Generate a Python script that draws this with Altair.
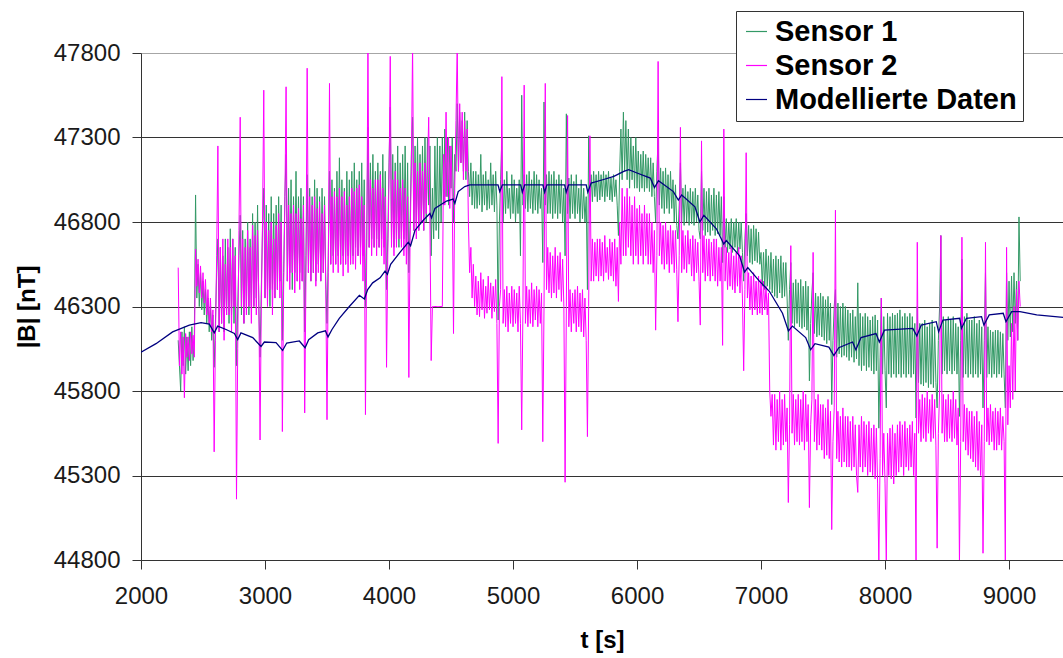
import altair as alt
import pandas as pd

# ---- sensor records: rows of 20 samples, 10 s apart (each row = 200 s) ----
T0 = 2300
DT = 10
ROW_SPAN = 200

# Sensor 1 (green) |B| in nT
s1_rows = [
    [46100, 45950, 45800, 46150, 45950, 46180, 45900, 46120, 45920, 46150, 45950, 46180, 45980, 46120, 46960, 46350, 46550, 46300, 46500, 46280],  # 2300
    [46450, 46250, 46400, 46200, 46350, 46150, 46300, 46100, 46250, 45940, 46200, 46500, 46700, 46150, 46650, 46200, 46600, 46150, 46700, 46250],  # 2500
    [46650, 46200, 46760, 46250, 46700, 46200, 46650, 45950, 46300, 46600, 46840, 46250, 46750, 46200, 46700, 46300, 46800, 46250, 46700, 46300],  # 2700
    [46850, 46300, 46800, 46350, 46900, 46300, 46000, 46400, 46750, 47000, 46350, 46900, 46400, 46850, 46300, 46950, 46400, 46850, 46350, 46900],  # 2900
    [46400, 46950, 46450, 46900, 46100, 46500, 46950, 47200, 46450, 47000, 46500, 47050, 46400, 46950, 46500, 47100, 46450, 46950, 46500, 47000],  # 3100
    [46450, 46950, 46150, 46600, 47080, 46500, 47000, 46450, 46950, 46500, 47050, 46450, 47000, 46550, 46950, 46450, 47000, 46500, 46950, 46450],  # 3300
    [46200, 46600, 47100, 46550, 47050, 46600, 47000, 46550, 47100, 46600, 47180, 46550, 47050, 46600, 47000, 46550, 47100, 46600, 47050, 46550],  # 3500
    [47100, 46600, 47150, 46650, 47050, 46600, 47100, 46650, 47150, 46600, 47050, 46300, 46700, 47360, 46650, 47150, 46700, 47200, 46650, 47100],  # 3700
    [46700, 47150, 46650, 47100, 46700, 47200, 46650, 47100, 46400, 46700, 47150, 47480, 46700, 47200, 46650, 47150, 46700, 47250, 46650, 47150],  # 3900
    [46700, 47200, 46700, 47250, 46650, 47150, 46500, 46800, 47200, 47420, 46750, 47250, 46800, 47300, 46750, 47200, 46800, 47250, 46750, 47300],  # 4100
    [46800, 47300, 46900, 47250, 46600, 47000, 46700, 47250, 46750, 47300, 46700, 47250, 46800, 47300, 46900, 47350, 46950, 47300, 46900, 47250],  # 4300
    [47000, 47300, 46800, 47200, 47100, 47500, 47100, 47450, 47150, 47400, 47100, 47450, 47050, 47400, 47100, 46950, 47150, 46900, 47100, 46880],  # 4500
    [47100, 46880, 47080, 46900, 47200, 46860, 47080, 46900, 47100, 46870, 47050, 46880, 47150, 46900, 47080, 46860, 47100, 46900, 46220, 46800],  # 4700
    [47050, 47300, 46800, 47050, 46850, 47100, 46880, 47000, 46820, 47080, 46850, 47050, 46800, 47000, 46850, 47050, 46600, 47550, 46900, 47080],  # 4900
    [46880, 47080, 46860, 47100, 46880, 47050, 46850, 47100, 46870, 47080, 46850, 47050, 46880, 47000, 46560, 47510, 46900, 47080, 46850, 47100],  # 5100
    [46850, 47080, 46820, 47100, 46850, 47050, 46820, 47080, 46850, 47050, 46800, 47000, 46600, 47440, 46850, 47060, 46820, 47080, 46850, 47040],  # 5300
    [46820, 47080, 46850, 47000, 46800, 47050, 46820, 47000, 46800, 46950, 46400, 47310, 46950, 47080, 46920, 47100, 46950, 47080, 46920, 47100],  # 5500
    [46930, 47080, 46950, 47100, 46920, 47080, 46950, 47100, 46930, 47060, 46920, 47080, 46950, 47050, 46900, 46720, 47100, 47350, 47050, 47450],  # 5700
    [47100, 47400, 47050, 47350, 47000, 47300, 47050, 47250, 47000, 47300, 47000, 47220, 46980, 47200, 47000, 47220, 46980, 47200, 47000, 47180],  # 5900
    [46980, 47180, 46950, 47150, 46950, 46800, 47100, 47300, 46900, 47120, 46880, 47100, 46850, 47120, 46880, 47080, 46850, 47100, 46880, 47050],  # 6100
    [46800, 47020, 46780, 46700, 46900, 47150, 46800, 47000, 46780, 47020, 46800, 46980, 46780, 47000, 46790, 46980, 46780, 47000, 46800, 46960],  # 6300
    [46750, 46700, 47100, 46750, 47000, 46720, 46980, 46740, 47000, 46720, 46960, 46750, 47000, 46720, 46960, 46730, 46980, 46720, 46950, 46560],  # 6500
    [46950, 46650, 46820, 46620, 46800, 46640, 46820, 46620, 46800, 46650, 46820, 46620, 46800, 46640, 46800, 46620, 46450, 46700, 46850, 46600],  # 6700
    [46780, 46560, 46760, 46550, 46780, 46570, 46760, 46560, 46740, 46550, 46620, 46420, 46620, 46400, 46640, 46420, 46600, 46400, 46620, 46380],  # 6900
    [46580, 46360, 46600, 46350, 46580, 46380, 46600, 46350, 46560, 46360, 46560, 46350, 46100, 46400, 46560, 46200, 46440, 46180, 46460, 46200],  # 7100
    [46440, 46180, 46460, 46170, 46420, 46180, 46450, 46160, 46420, 45860, 46200, 46380, 46500, 46140, 46380, 46120, 46360, 46130, 46380, 46120],  # 7300
    [46360, 46100, 46340, 46080, 46360, 46100, 46320, 45720, 46100, 46300, 46400, 46000, 46320, 46020, 46300, 46000, 46320, 46010, 46300, 46000],  # 7500
    [46280, 45980, 46260, 46000, 46280, 45970, 46240, 45990, 46440, 45950, 46260, 45920, 46240, 45950, 46260, 45920, 46240, 45940, 46220, 45920],  # 7700
    [46240, 45900, 46250, 45920, 46220, 45580, 46000, 46350, 45900, 46240, 45920, 45700, 46260, 45900, 46240, 45880, 46260, 45900, 46250, 45880],  # 7900
    [46260, 45900, 46280, 45880, 46240, 45900, 46260, 45880, 46240, 45900, 46260, 45880, 46240, 45900, 46200, 45640, 46300, 45850, 46200, 45840],  # 8100
    [46200, 45830, 46220, 45850, 46180, 45820, 46200, 45840, 46220, 45820, 46180, 45850, 45700, 46100, 46300, 46720, 45900, 46240, 45920, 46220],  # 8300
    [45900, 46240, 45920, 46220, 45900, 46240, 45920, 46200, 45900, 46180, 45650, 46100, 46580, 45880, 46240, 45900, 46260, 45880, 46220, 45900],  # 8500
    [46220, 45880, 46240, 45900, 46200, 45880, 46220, 45900, 46180, 45700, 46100, 46500, 45880, 46180, 45900, 46160, 45880, 46150, 45900, 46160],  # 8700
    [45880, 46160, 45900, 46150, 45880, 46140, 45900, 45700, 46500, 46100, 46450, 46120, 46480, 46150, 46500, 46200, 46450, 46100, 46830, 46450],  # 8900
]

# Sensor 2 (magenta) |B| in nT
s2_rows = [
    [46530, 45950, 46150, 45900, 46120, 45760, 46140, 46000, 46120, 45980, 46150, 46020, 46130, 46000, 46640, 46420, 46580, 46380, 46540, 46350],  # 2300
    [46500, 46320, 46460, 46250, 46400, 46200, 46350, 46150, 46280, 45440, 46100, 46600, 47250, 46150, 46650, 46200, 46700, 46100, 46550, 46250],  # 2500
    [46700, 46250, 46650, 46150, 46700, 46300, 46600, 45160, 46050, 46750, 47420, 46300, 46700, 46200, 46650, 46250, 46750, 46300, 46650, 46200],  # 2700
    [46780, 46300, 46720, 46250, 46750, 46350, 45510, 46300, 46800, 47580, 46350, 46800, 46300, 46750, 46400, 46800, 46250, 46700, 46350, 46780],  # 2900
    [46400, 46850, 46350, 46800, 45560, 46400, 46900, 47600, 46450, 46900, 46400, 46850, 46500, 46900, 46380, 46850, 46450, 46880, 46400, 46820],  # 3100
    [46450, 46900, 45670, 46450, 47710, 46500, 46950, 46450, 46900, 46500, 46950, 46420, 46880, 46500, 46920, 46450, 46850, 46500, 46900, 46400],  # 3300
    [45630, 46500, 47620, 46550, 46950, 46500, 46980, 46550, 46950, 46500, 47000, 46550, 46950, 46480, 46980, 46550, 46900, 46500, 46950, 46550],  # 3500
    [47000, 46550, 46980, 46520, 47000, 46600, 47020, 46550, 46950, 46450, 46900, 45660, 46600, 47850, 46650, 47050, 46600, 47000, 46650, 47050],  # 3700
    [46600, 47050, 46650, 47080, 46600, 47000, 46550, 46950, 45940, 46600, 47050, 47780, 46650, 47050, 46600, 47100, 46650, 47050, 46700, 47000],  # 3900
    [46650, 47050, 46600, 47000, 46550, 46950, 45880, 46700, 47100, 47850, 46750, 47150, 46700, 47100, 46750, 47150, 46800, 47100, 46750, 47150],  # 4100
    [46850, 47100, 47420, 46800, 45980, 46300, 46300, 46300, 46300, 46300, 46300, 46300, 46300, 46300, 47200, 46900, 47450, 46950, 47300, 46880],  # 4300
    [47250, 46950, 46140, 47000, 47400, 47850, 47100, 47500, 47150, 47450, 47050, 47400, 47100, 47350, 46800, 46500, 46650, 46350, 46550, 46300],  # 4500
    [46480, 46250, 46450, 46240, 46500, 46280, 46460, 46230, 46420, 46260, 46480, 46280, 46440, 46230, 46420, 46270, 46460, 46200, 45490, 46300],  # 4700
    [46400, 47660, 46200, 46400, 46180, 46420, 46150, 46380, 46200, 46420, 46180, 46400, 46200, 46380, 46150, 46420, 46200, 45570, 46300, 47610],  # 4900
    [46200, 46420, 46180, 46400, 46200, 46440, 46180, 46400, 46220, 46420, 46180, 46400, 46200, 46380, 45500, 46300, 47620, 46400, 46650, 46380],  # 5100
    [46620, 46350, 46600, 46380, 46650, 46350, 46600, 46400, 46620, 46330, 46580, 46300, 45260, 46300, 47430, 46180, 46400, 46150, 46380, 46200],  # 5300
    [46400, 46150, 46420, 46180, 46380, 46150, 46400, 46120, 46350, 46100, 45530, 46300, 47310, 46450, 46700, 46450, 46680, 46480, 46700, 46450],  # 5500
    [46700, 46480, 46680, 46450, 46720, 46500, 46650, 46460, 46700, 46480, 46680, 46450, 46700, 46420, 46650, 46330, 46800, 46550, 47000, 46600],  # 5700
    [46950, 46600, 47000, 46650, 46950, 46600, 46900, 46550, 46950, 46600, 46880, 46550, 46900, 46600, 46850, 46550, 46900, 46600, 46850, 46550],  # 5900
    [46850, 46550, 46800, 46500, 46750, 46160, 46600, 47750, 46600, 46800, 46550, 46780, 46520, 46800, 46550, 46750, 46500, 46780, 46550, 46750],  # 6100
    [46500, 46750, 46520, 46210, 46600, 47360, 46500, 46750, 46520, 46720, 46500, 46750, 46550, 46700, 46480, 46720, 46450, 46700, 46500, 46680],  # 6300
    [46450, 46190, 47280, 46500, 46720, 46450, 46700, 46480, 46700, 46450, 46680, 46480, 46700, 46450, 46700, 46420, 46650, 46450, 46650, 46070],  # 6500
    [47350, 46450, 46650, 46400, 46620, 46420, 46650, 46400, 46600, 46380, 46620, 46420, 46650, 46380, 46600, 46350, 45920, 46400, 47210, 46350],  # 6700
    [46500, 46280, 46480, 46250, 46500, 46280, 46450, 46250, 46480, 46260, 46460, 46250, 46450, 46280, 46420, 46250, 46380, 45800, 45650, 45780],  # 6900
    [45480, 45780, 45450, 45750, 45500, 45800, 45450, 45750, 45480, 45780, 45500, 45700, 45140, 45600, 46660, 45550, 45780, 45480, 45750, 45500],  # 7100
    [45780, 45480, 45750, 45500, 45800, 45450, 45780, 45500, 45720, 45110, 45600, 45750, 46620, 45500, 45750, 45450, 45780, 45480, 45720, 45450],  # 7300
    [45720, 45400, 45700, 45420, 45750, 45400, 45680, 44980, 45500, 45700, 46870, 45400, 45680, 45380, 45650, 45350, 45700, 45380, 45650, 45350],  # 7500
    [45650, 45350, 45620, 45330, 45650, 45350, 45600, 45300, 45200, 45600, 45350, 45650, 45320, 45620, 45350, 45600, 45300, 45620, 45320, 45580],  # 7700
    [45300, 45600, 45280, 45580, 45250, 44780, 45400, 46350, 45300, 45550, 45250, 44780, 45550, 45300, 45580, 45280, 45600, 45250, 45550, 45300],  # 7900
    [45600, 45320, 45620, 45350, 45600, 45300, 45620, 45350, 45580, 45330, 45600, 45350, 45620, 45300, 45550, 44780, 46680, 45550, 45750, 45500],  # 8100
    [45780, 45520, 45760, 45500, 45800, 45550, 45750, 45500, 45780, 45520, 45750, 45480, 44870, 45550, 45800, 46720, 45550, 45780, 45500, 45750],  # 8300
    [45500, 45780, 45520, 45750, 45500, 45800, 45520, 45750, 45480, 45700, 44780, 45500, 46710, 45500, 45720, 45450, 45700, 45420, 45680, 45400],  # 8500
    [45680, 45380, 45650, 45350, 45680, 45330, 45620, 45300, 45600, 44840, 45500, 46680, 45500, 45700, 45480, 45720, 45500, 45680, 45450, 45700],  # 8700
    [45450, 45680, 45480, 45700, 45450, 45650, 45500, 44780, 46650, 45600, 45950, 45700, 46200, 45750, 46300, 45800, 46400, 46100, 46450, 46300],  # 8900
]

# Modelled data (navy)
model_t = [2000, 2121, 2255, 2390, 2484, 2551, 2591, 2618, 2686, 2753,
           2780, 2806, 2901, 2968, 2995, 3089, 3142, 3175, 3277, 3323,
           3352, 3425, 3487, 3508, 3540, 3599, 3680, 3761, 3801, 3828,
           3868, 3928, 3968, 3987, 4013, 4088, 4155, 4174, 4209, 4276,
           4330, 4343, 4370, 4464, 4517, 4531, 4558, 4611, 4651, 4879,
           4893, 4914, 5062, 5075, 5094, 5241, 5255, 5273, 5416, 5429,
           5448, 5590, 5603, 5630, 5724, 5813, 5893, 5933, 6000, 6107,
           6141, 6173, 6293, 6333, 6360, 6467, 6507, 6539, 6640, 6699,
           6720, 6827, 6867, 6893, 6987, 7067, 7173, 7221, 7253, 7360,
           7400, 7435, 7547, 7587, 7627, 7738, 7765, 7806, 7927, 7954,
           7995, 8224, 8256, 8292, 8413, 8432, 8467, 8602, 8616, 8656,
           8778, 8797, 8840, 8953, 8975, 9021, 9088, 9223, 9436]
model_v = [46030, 46080, 46150, 46190, 46204, 46196, 46144, 46184, 46164, 46140,
           46104, 46144, 46116, 46064, 46090, 46086, 46040, 46084, 46096, 46056,
           46104, 46144, 46156, 46120, 46164, 46230, 46300, 46366, 46344, 46400,
           46440, 46470, 46510, 46490, 46550, 46620, 46680, 46660, 46750, 46810,
           46850, 46824, 46880, 46924, 46936, 46910, 46980, 47010, 47020, 47020,
           46980, 47020, 47020, 46976, 47020, 47020, 46976, 47020, 47020, 46976,
           47020, 47020, 46976, 47030, 47050, 47070, 47100, 47110, 47090, 47060,
           47004, 47044, 46980, 46930, 46960, 46890, 46800, 46840, 46760, 46670,
           46690, 46600, 46504, 46530, 46450, 46390, 46260, 46156, 46184, 46116,
           46044, 46080, 46060, 46010, 46056, 46090, 46044, 46116, 46140, 46090,
           46160, 46170, 46126, 46190, 46210, 46150, 46220, 46230, 46170, 46230,
           46240, 46190, 46250, 46260, 46210, 46270, 46270, 46250, 46236]

x_ticks = [2000, 3000, 4000, 5000, 6000, 7000, 8000, 9000]
y_ticks = [44800, 45300, 45800, 46300, 46800, 47300, 47800]

series_names = ["Sensor 1", "Sensor 2", "Modellierte Daten"]
series_colors = ["#339966", "#FF00FF", "#000080"]


def rows_to_df(rows, name):
    recs = []
    for r, row in enumerate(rows):
        for k, v in enumerate(row):
            recs.append({"t": T0 + r * ROW_SPAN + k * DT, "B": v, "series": name})
    return pd.DataFrame(recs)


df1 = rows_to_df(s1_rows, series_names[0])
df2 = rows_to_df(s2_rows, series_names[1])
dfm = pd.DataFrame({"t": model_t, "B": model_v, "series": series_names[2]})

FONT = "Liberation Sans"

x_enc = alt.X(
    "t:Q",
    scale=alt.Scale(domain=[2000, 9435], nice=False, zero=False),
    axis=alt.Axis(
        values=x_ticks, format="d", title="t [s]", grid=False, labelFlush=False,
        labelFont=FONT, labelFontSize=24, labelColor="#1a1a1a",
        labelPadding=15, tickSize=9, tickColor="#333333",
        domainColor="#333333", titleFont=FONT, titleFontSize=24,
        titleFontWeight="bold", titleColor="black", titlePadding=20,
    ),
)
y_enc = alt.Y(
    "B:Q",
    scale=alt.Scale(domain=[44800, 47800], nice=False, zero=False),
    axis=alt.Axis(
        values=y_ticks, format="d", title="|B| [nT]", grid=True, labelFlush=False,
        gridColor=alt.condition("datum.value == 47800", alt.value("#a6a6a6"), alt.value("#333333")),
        gridWidth=1,
        labelFont=FONT, labelFontSize=24, labelColor="#1a1a1a",
        labelPadding=12, tickSize=9, tickColor="#333333",
        domainColor="#333333", titleFont=FONT, titleFontSize=24,
        titleFontWeight="bold", titleColor="black", titlePadding=14,
    ),
)
color_enc = alt.Color(
    "series:N",
    scale=alt.Scale(domain=series_names, range=series_colors),
    legend=alt.Legend(
        orient="none", legendX=595, legendY=-42, title=None,
        labelFont=FONT, labelFontWeight="bold", labelFontSize=29,
        labelColor="black", labelLimit=600,
        symbolType="stroke", symbolSize=441, symbolStrokeWidth=1.2,
        labelOffset=4, rowPadding=4, padding=6,
        strokeColor="#333333", fillColor="white",
    ),
)

l1 = alt.Chart(df1).mark_line(strokeWidth=1, clip=True).encode(x=x_enc, y=y_enc, color=color_enc)
l2 = alt.Chart(df2).mark_line(strokeWidth=1, clip=True).encode(x=x_enc, y=y_enc, color=color_enc)
lm = alt.Chart(dfm).mark_line(strokeWidth=1.3, clip=True).encode(x=x_enc, y=y_enc, color=color_enc)

chart = alt.layer(l1, l2, lm).properties(
    width=922, height=507,
    autosize=alt.AutoSizeParams(type="none"),
    padding={"left": 141, "top": 53, "right": 0, "bottom": 98},
    background="white",
).configure_view(stroke=None)

chart.save("out.html", embed_options={"renderer": "svg", "actions": False})
